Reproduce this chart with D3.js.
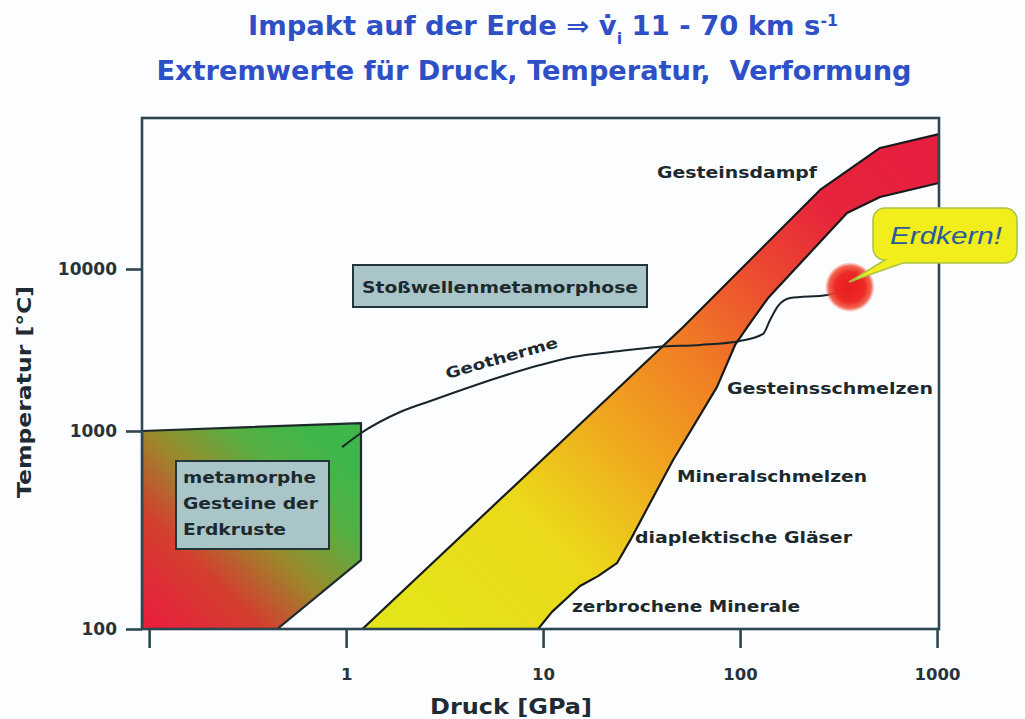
<!DOCTYPE html>
<html>
<head>
<meta charset="utf-8">
<script src="https://cdn.jsdelivr.net/npm/d3@7"></script>
<style>
  html, body { margin: 0; padding: 0; background: #fcfdff; }
  svg { display: block; }
  text { font-family: "DejaVu Sans", "Liberation Sans", sans-serif; }
</style>
</head>
<body>
<svg id="chart" width="1025" height="719"></svg>
<script>
// Axis ticks (pressure in GPa, temperature in °C)
const pressureTicks = [0.1, 1, 10, 100, 1000];
const pressureTickLabels = ["", "1", "10", "100", "1000"];
const temperatureTicks = [100, 1000, 10000];

// Shock-metamorphism band: upper (vapour) edge and lower (melt) edge, [GPa, °C]
const bandUpper = [[1.21, 100], [51.4, 4385], [254.7, 30760], [513.7, 55850], [1023, 68100]];
const bandLower = [[1023, 33950], [513.7, 27830], [349, 22170], [138.7, 6620], [112.4, 4640],
                   [94.3, 3398], [76.4, 1871], [45.7, 714], [27.7, 281], [23.7, 215],
                   [19.0, 185], [15.4, 165], [11.1, 122], [9.43, 100]];

// Crustal metamorphism field
const crustField = [[0.092, 1000], [1.19, 1120], [1.19, 223], [0.447, 100], [0.092, 100]];

// Geotherm
const geotherm = [[0.954, 829], [1.192, 977], [1.88, 1310], [2.765, 1553], [6.05, 2154],
                  [9.66, 2553], [14.2, 2864], [24.6, 3118], [37.9, 3304], [62.7, 3398],
                  [100, 3594], [130.9, 3975], [142, 4845], [156, 5915], [179.4, 6620],
                  [276.6, 6920], [361, 7540]];

// Earth's core
const coreP = 361, coreT = 7730;

const svg = d3.select("#chart");
const W = 1025, H = 719;
const plot = { left: 142, right: 939, top: 118, bottom: 629 };

svg.append("rect").attr("width", W).attr("height", H).attr("fill", "#fcfdff");

const x = d3.scaleLog().domain([0.092, 1023]).range([plot.left, plot.right]);
const y = d3.scaleLog().domain([100, 1000, 10000, 85500]).range([plot.bottom, 431, 269, plot.top]);

const defs = svg.append("defs");
defs.append("clipPath").attr("id", "plotClip")
  .append("rect").attr("x", plot.left).attr("y", plot.top)
  .attr("width", plot.right - plot.left).attr("height", plot.bottom - plot.top);

const bandGrad = defs.append("linearGradient").attr("id", "bandGrad")
  .attr("gradientUnits", "userSpaceOnUse")
  .attr("x1", 420).attr("y1", 640).attr("x2", 900).attr("y2", 150);
[[0, "#e4e51a"], [0.25, "#ebd81a"], [0.43, "#f0a41f"], [0.57, "#f07f24"], [0.73, "#ec4a30"], [0.86, "#e7253b"], [1, "#e61f3e"]]
  .forEach(([o, c]) => bandGrad.append("stop").attr("offset", o).attr("stop-color", c));

const crustGrad = defs.append("linearGradient").attr("id", "crustGrad")
  .attr("gradientUnits", "userSpaceOnUse")
  .attr("x1", 150).attr("y1", 620).attr("x2", 320).attr("y2", 440);
[[0, "#e8203c"], [0.3, "#d2402e"], [0.55, "#9a8a2c"], [0.8, "#55b043"], [1, "#3fb64a"]]
  .forEach(([o, c]) => crustGrad.append("stop").attr("offset", o).attr("stop-color", c));

const coreGrad = defs.append("radialGradient").attr("id", "coreGrad");
[[0, "#e81c22"], [0.6, "#ec2a24"], [0.85, "#f04a34", 0.85], [1, "#f46a50", 0]]
  .forEach(([o, c, a]) => coreGrad.append("stop").attr("offset", o).attr("stop-color", c)
    .attr("stop-opacity", a === undefined ? 1 : a));

const line = d3.line().x(d => x(d[0])).y(d => y(d[1]));
const g = svg.append("g").attr("clip-path", "url(#plotClip)");

// crust field
g.append("path").attr("d", line(crustField) + "Z")
  .attr("fill", "url(#crustGrad)").attr("stroke", "#1d2b2e").attr("stroke-width", 2.2)
  .attr("stroke-linejoin", "round");

// shock band
g.append("path").attr("d", line(bandUpper.concat(bandLower)) + "Z")
  .attr("fill", "url(#bandGrad)").attr("stroke", "#161a1a").attr("stroke-width", 2.2)
  .attr("stroke-linejoin", "round");

// geotherm
g.append("path").attr("d", d3.line().x(d => x(d[0])).y(d => y(d[1])).curve(d3.curveMonotoneX)(geotherm))
  .attr("fill", "none").attr("stroke", "#16252a").attr("stroke-width", 2);

// core dot
svg.append("circle").attr("cx", x(coreP)).attr("cy", y(coreT)).attr("r", 25)
  .attr("fill", "url(#coreGrad)");

// frame
svg.append("rect").attr("x", plot.left).attr("y", plot.top)
  .attr("width", plot.right - plot.left).attr("height", plot.bottom - plot.top)
  .attr("fill", "none").attr("stroke", "#2c4752").attr("stroke-width", 2.6);

// axes
const axisColor = "#2c4752";
const xAxis = svg.append("g").attr("transform", `translate(0,${plot.bottom})`)
  .call(d3.axisBottom(x).tickValues(pressureTicks)
    .tickFormat((d, i) => pressureTickLabels[i]).tickSize(19).tickPadding(20));
const yAxis = svg.append("g").attr("transform", `translate(${plot.left},0)`)
  .call(d3.axisLeft(y).tickValues(temperatureTicks).tickFormat(d3.format("d")).tickSize(16).tickPadding(9));
[xAxis, yAxis].forEach(a => {
  a.select(".domain").remove();
  a.selectAll(".tick line").attr("stroke", axisColor).attr("stroke-width", 2.6);
  a.selectAll(".tick text").attr("fill", "#27323a").attr("font-size", 16.5)
    .attr("font-weight", "bold").style("font-family", "'DejaVu Sans', sans-serif");
});
yAxis.selectAll(".tick text").attr("font-size", 17);

// axis titles
svg.append("text").attr("transform", "translate(31,392) rotate(-90)")
  .attr("text-anchor", "middle").attr("font-size", 20).attr("font-weight", "bold")
  .attr("fill", "#1f2b32").attr("textLength", 212).attr("lengthAdjust", "spacingAndGlyphs")
  .text("Temperatur [°C]");
svg.append("text").attr("x", 511).attr("y", 714)
  .attr("text-anchor", "middle").attr("font-size", 21).attr("font-weight", "bold")
  .attr("fill", "#1f2b32").attr("textLength", 162).attr("lengthAdjust", "spacingAndGlyphs")
  .text("Druck [GPa]");

// title
const titleColor = "#2f4fc6";
const t1 = svg.append("text").attr("x", 543).attr("y", 35).attr("text-anchor", "middle")
  .attr("font-size", 26).attr("font-weight", "bold").attr("fill", titleColor)
  .attr("textLength", 590).attr("lengthAdjust", "spacingAndGlyphs");
t1.append("tspan").text("Impakt auf der Erde ⇒ v\u0307");
t1.append("tspan").attr("baseline-shift", "sub").attr("font-size", 15).text("i");
t1.append("tspan").text(" 11 - 70 km s");
t1.append("tspan").attr("baseline-shift", "super").attr("font-size", 15).text("-1");
svg.append("text").attr("x", 534).attr("y", 80).attr("text-anchor", "middle")
  .attr("font-size", 26).attr("font-weight", "bold").attr("fill", titleColor)
  .style("white-space", "pre")
  .attr("textLength", 755).attr("lengthAdjust", "spacingAndGlyphs")
  .text("Extremwerte für Druck, Temperatur,  Verformung");

// boxed labels
function boxLabel(bx, by, bw, bh, lines) {
  svg.append("rect").attr("x", bx).attr("y", by).attr("width", bw).attr("height", bh)
    .attr("fill", "#a9c5c8").attr("stroke", "#22353a").attr("stroke-width", 2);
  lines.forEach(l => svg.append("text").attr("x", l.x).attr("y", l.y)
    .attr("font-size", 16.5).attr("font-weight", "bold").attr("fill", "#1c2a2e")
    .attr("textLength", l.w).attr("lengthAdjust", "spacingAndGlyphs").text(l.t));
}
boxLabel(353, 265, 294, 42, [{ t: "Stoßwellenmetamorphose", x: 362, y: 293, w: 276 }]);
boxLabel(176, 461, 153, 88, [
  { t: "metamorphe", x: 183, y: 483, w: 133 },
  { t: "Gesteine der", x: 183, y: 509, w: 135 },
  { t: "Erdkruste", x: 183, y: 535, w: 103 }
]);

// field labels
[
  { t: "Gesteinsdampf", x: 657, y: 178, w: 160 },
  { t: "Gesteinsschmelzen", x: 727, y: 394, w: 206 },
  { t: "Mineralschmelzen", x: 677, y: 482, w: 190 },
  { t: "diaplektische Gläser", x: 635, y: 543, w: 217 },
  { t: "zerbrochene Minerale", x: 572, y: 612, w: 228 }
].forEach(l => svg.append("text").attr("x", l.x).attr("y", l.y)
  .attr("font-size", 16.5).attr("font-weight", "bold").attr("fill", "#1c2a2e")
  .attr("textLength", l.w).attr("lengthAdjust", "spacingAndGlyphs").text(l.t));

svg.append("text").attr("transform", "translate(503,363) rotate(-16)")
  .attr("text-anchor", "middle").attr("font-size", 15).attr("font-weight", "bold")
  .attr("fill", "#1c2a2e").attr("textLength", 116).attr("lengthAdjust", "spacingAndGlyphs")
  .text("Geotherme");

// callout for the core
const cx0 = x(coreP), cy0 = y(coreT);
const bubble = d3.path();
const bx = 873, by = 208, bw = 144, bh = 55, r = 12;
bubble.moveTo(bx + r, by);
bubble.lineTo(bx + bw - r, by);
bubble.arcTo(bx + bw, by, bx + bw, by + r, r);
bubble.lineTo(bx + bw, by + bh - r);
bubble.arcTo(bx + bw, by + bh, bx + bw - r, by + bh, r);
bubble.lineTo(bx + 30, by + bh);
bubble.lineTo(cx0 - 1, cy0 - 5);
bubble.lineTo(bx + 12, by + bh - 3);
bubble.arcTo(bx, by + bh - 3, bx, by + bh - r - 3, r);
bubble.lineTo(bx, by + r);
bubble.arcTo(bx, by, bx + r, by, r);
bubble.closePath();
svg.append("path").attr("d", bubble.toString())
  .attr("fill", "#f1ee1c").attr("stroke", "#a9c446").attr("stroke-width", 1.6);
svg.append("text").attr("x", 946).attr("y", 244).attr("text-anchor", "middle")
  .attr("font-size", 24).attr("font-style", "italic").attr("fill", "#2b5a9c")
  .style("font-family", "'Liberation Sans', Arial, sans-serif")
  .attr("textLength", 112).attr("lengthAdjust", "spacingAndGlyphs")
  .text("Erdkern!");
</script>
</body>
</html>
